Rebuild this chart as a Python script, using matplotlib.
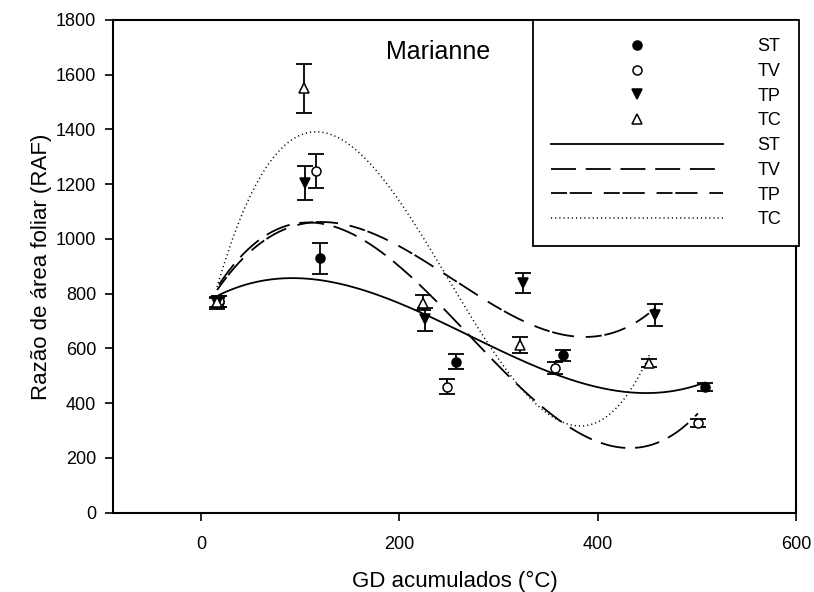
import numpy as np
import matplotlib
matplotlib.use("Agg")
import matplotlib.pyplot as plt
from matplotlib.lines import Line2D

plt.rcParams["font.family"] = ["Liberation Sans", "DejaVu Sans"]
plt.rcParams["lines.scale_dashes"] = False

# Leaf area ratio (RAF) per treatment vs accumulated degree-days (GD)
gd_st = [18, 120, 257, 365, 508]
raf_st = [770, 929, 552, 576, 460]
err_st = [20, 58, 26, 20, 15]

gd_tv = [18, 116, 248, 357, 501]
raf_tv = [772, 1249, 460, 527, 329]
err_tv = [20, 62, 27, 22, 15]

gd_tp = [16, 105, 226, 325, 458]
raf_tp = [765, 1205, 706, 838, 722]
err_tp = [20, 62, 42, 36, 40]

gd_tc = [16, 104, 224, 322, 452]
raf_tc = [770, 1550, 767, 613, 546]
err_tc = [18, 90, 28, 30, 15]

labels = ["ST", "TV", "TP", "TC"]
x_ticks = [0, 200, 400, 600]
y_ticks = list(range(0, 1801, 200))

series = [
    (gd_st, raf_st, err_st, dict(marker="o", mfc="black", ms=6.5), dict(ls="-", lw=1.3)),
    (gd_tv, raf_tv, err_tv, dict(marker="o", mfc="white", ms=6.5), dict(ls=(0, (18, 7)), lw=1.3)),
    (gd_tp, raf_tp, err_tp, dict(marker="v", mfc="black", ms=7.5), dict(ls=(0, (11.5, 2, 16, 8.5)), lw=1.3)),
    (gd_tc, raf_tc, err_tc, dict(marker="^", mfc="white", ms=7.5), dict(ls=(0, (0.8, 2.2)), lw=1.1)),
]

fig = plt.figure(figsize=(8.14, 5.92), dpi=100)
ax = fig.add_axes([113 / 814, 1 - 512.7 / 592, (796 - 113) / 814, (512.7 - 20) / 592])

marker_handles = []
line_handles = []
for gd, raf, err, mstyle, lstyle in series:
    gd = np.asarray(gd, float)
    raf = np.asarray(raf, float)
    # third-order polynomial regression of each treatment
    coef = np.polyfit(gd, raf, 3)
    xs = np.linspace(gd.min(), gd.max(), 300)
    ax.plot(xs, np.polyval(coef, xs), color="black", zorder=2, **lstyle)
    ax.errorbar(gd, raf, yerr=err, fmt="none", ecolor="black", elinewidth=1.3,
                capsize=5.5, capthick=1.3, zorder=3)
    ax.plot(gd, raf, ls="none", color="black", mec="black", mew=1.1, zorder=4, **mstyle)
    marker_handles.append(Line2D([], [], ls="none", color="black", mec="black", mew=1.1, **mstyle))
    line_handles.append(Line2D([], [], color="black", **lstyle))

ax.set_xlim(-89, 600)
ax.set_ylim(0, 1800)
ax.set_xticks(x_ticks)
ax.set_yticks(y_ticks)
ax.tick_params(axis="both", direction="out", length=6, width=1.2, labelsize=13)
ax.tick_params(axis="x", pad=10.5)
ax.tick_params(axis="y", pad=6)
for sp in ax.spines.values():
    sp.set_linewidth(1.5)

ax.set_xlabel("GD acumulados (°C)", fontsize=16, labelpad=13)
ax.set_ylabel("Razão de área foliar (RAF)", fontsize=16, labelpad=3)

ax.text(0.476, 0.935, "Marianne", transform=ax.transAxes, ha="center", va="center",
        fontsize=18)

leg = ax.legend(marker_handles + line_handles, labels + labels,
                loc="upper right", bbox_to_anchor=(799 / 814, 1 - 20 / 592),
                bbox_transform=fig.transFigure, borderaxespad=0, frameon=True,
                fancybox=False, edgecolor="black", framealpha=1, fontsize=13,
                handlelength=9.5, handletextpad=1.9, labelspacing=0.43,
                borderpad=1.0, numpoints=1)
leg.get_frame().set_linewidth(1.3)
leg.set_zorder(10)

fig.savefig("out.png", dpi=100)
